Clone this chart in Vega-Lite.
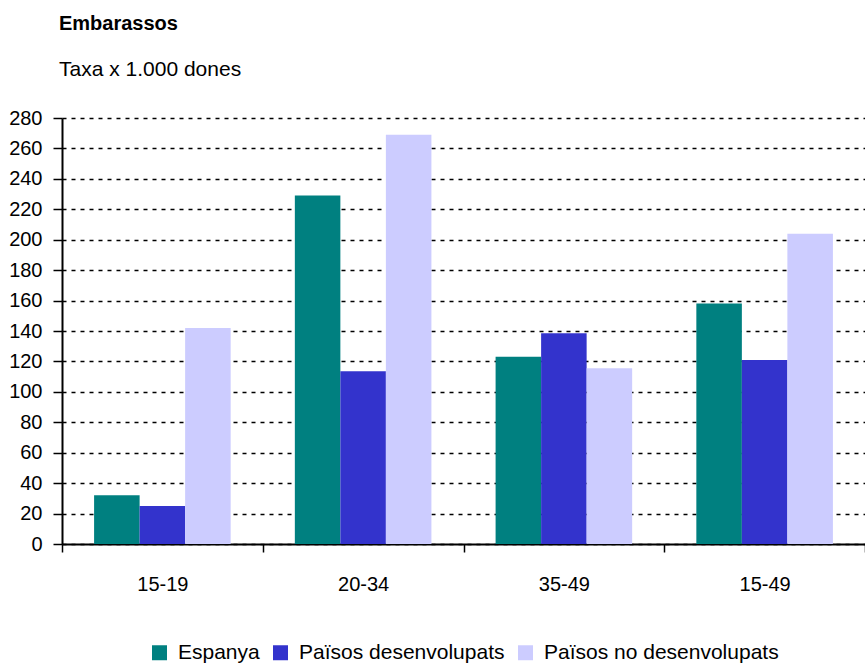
{
  "$schema": "https://vega.github.io/schema/vega-lite/v6.json",
  "autosize": {"type": "none"},
  "width": 803,
  "height": 426,
  "padding": {"left": 62, "top": 118, "right": 0, "bottom": 124},
  "background": "white",
  "title": {
    "text": "Embarassos",
    "subtitle": "Taxa x 1.000 dones",
    "anchor": "start",
    "frame": "group",
    "dx": -3,
    "offset": 28,
    "font": "Liberation Sans, Arial, sans-serif",
    "fontSize": 20,
    "fontWeight": "bold",
    "color": "black",
    "subtitleFont": "Liberation Sans, Arial, sans-serif",
    "subtitleFontSize": 21,
    "subtitleColor": "black",
    "subtitlePadding": 25
  },
  "data": {
    "values": [
      {"edat": "15-19", "grup": "Espanya", "taxa": 32},
      {"edat": "15-19", "grup": "Països desenvolupats", "taxa": 25},
      {"edat": "15-19", "grup": "Països no desenvolupats", "taxa": 142},
      {"edat": "20-34", "grup": "Espanya", "taxa": 229},
      {"edat": "20-34", "grup": "Països desenvolupats", "taxa": 113.5},
      {"edat": "20-34", "grup": "Països no desenvolupats", "taxa": 269},
      {"edat": "35-49", "grup": "Espanya", "taxa": 123},
      {"edat": "35-49", "grup": "Països desenvolupats", "taxa": 138.5},
      {"edat": "35-49", "grup": "Països no desenvolupats", "taxa": 115.5},
      {"edat": "15-49", "grup": "Espanya", "taxa": 158},
      {"edat": "15-49", "grup": "Països desenvolupats", "taxa": 121},
      {"edat": "15-49", "grup": "Països no desenvolupats", "taxa": 204}
    ]
  },
  "mark": {"type": "bar"},
  "encoding": {
    "x": {
      "field": "edat",
      "type": "nominal",
      "sort": null,
      "title": null,
      "scale": {"paddingInner": 0, "paddingOuter": 0},
      "axis": {
        "tickBand": "extent",
        "labelAngle": 0,
        "domainColor": "black",
        "domainWidth": 2,
        "tickColor": "black",
        "tickWidth": 1.5,
        "tickSize": 8,
        "labelPadding": 22,
        "labelFont": "Liberation Sans, Arial, sans-serif",
        "labelFontSize": 20,
        "labelColor": "black",
        "grid": false
      }
    },
    "xOffset": {
      "field": "grup",
      "type": "nominal",
      "scale": {"paddingInner": 0, "paddingOuter": 0.705}
    },
    "y": {
      "field": "taxa",
      "type": "quantitative",
      "title": null,
      "scale": {"domain": [0, 280], "nice": false},
      "axis": {
        "values": [0, 20, 40, 60, 80, 100, 120, 140, 160, 180, 200, 220, 240, 260, 280],
        "domainColor": "black",
        "domainWidth": 2,
        "tickColor": "black",
        "tickWidth": 1.5,
        "tickSize": 9,
        "labelPadding": 11,
        "labelFont": "Liberation Sans, Arial, sans-serif",
        "labelFontSize": 20,
        "labelColor": "black",
        "grid": true,
        "gridColor": "black",
        "gridWidth": 1.5,
        "gridDash": [4, 5]
      }
    },
    "color": {
      "field": "grup",
      "type": "nominal",
      "scale": {
        "domain": ["Espanya", "Països desenvolupats", "Països no desenvolupats"],
        "range": ["#008080", "#3333CC", "#CCCCFF"]
      },
      "legend": {
        "title": null,
        "orient": "bottom",
        "direction": "horizontal",
        "offset": 48,
        "symbolType": "square",
        "symbolSize": 225,
        "symbolStrokeWidth": 0,
        "labelFont": "Liberation Sans, Arial, sans-serif",
        "labelFontSize": 21,
        "labelColor": "black",
        "columnPadding": 10,
        "labelOffset": 8,
        "labelLimit": 400
      }
    }
  },
  "config": {
    "view": {"stroke": null},
    "legend": {"layout": {"bottom": {"anchor": "middle"}}}
  }
}
